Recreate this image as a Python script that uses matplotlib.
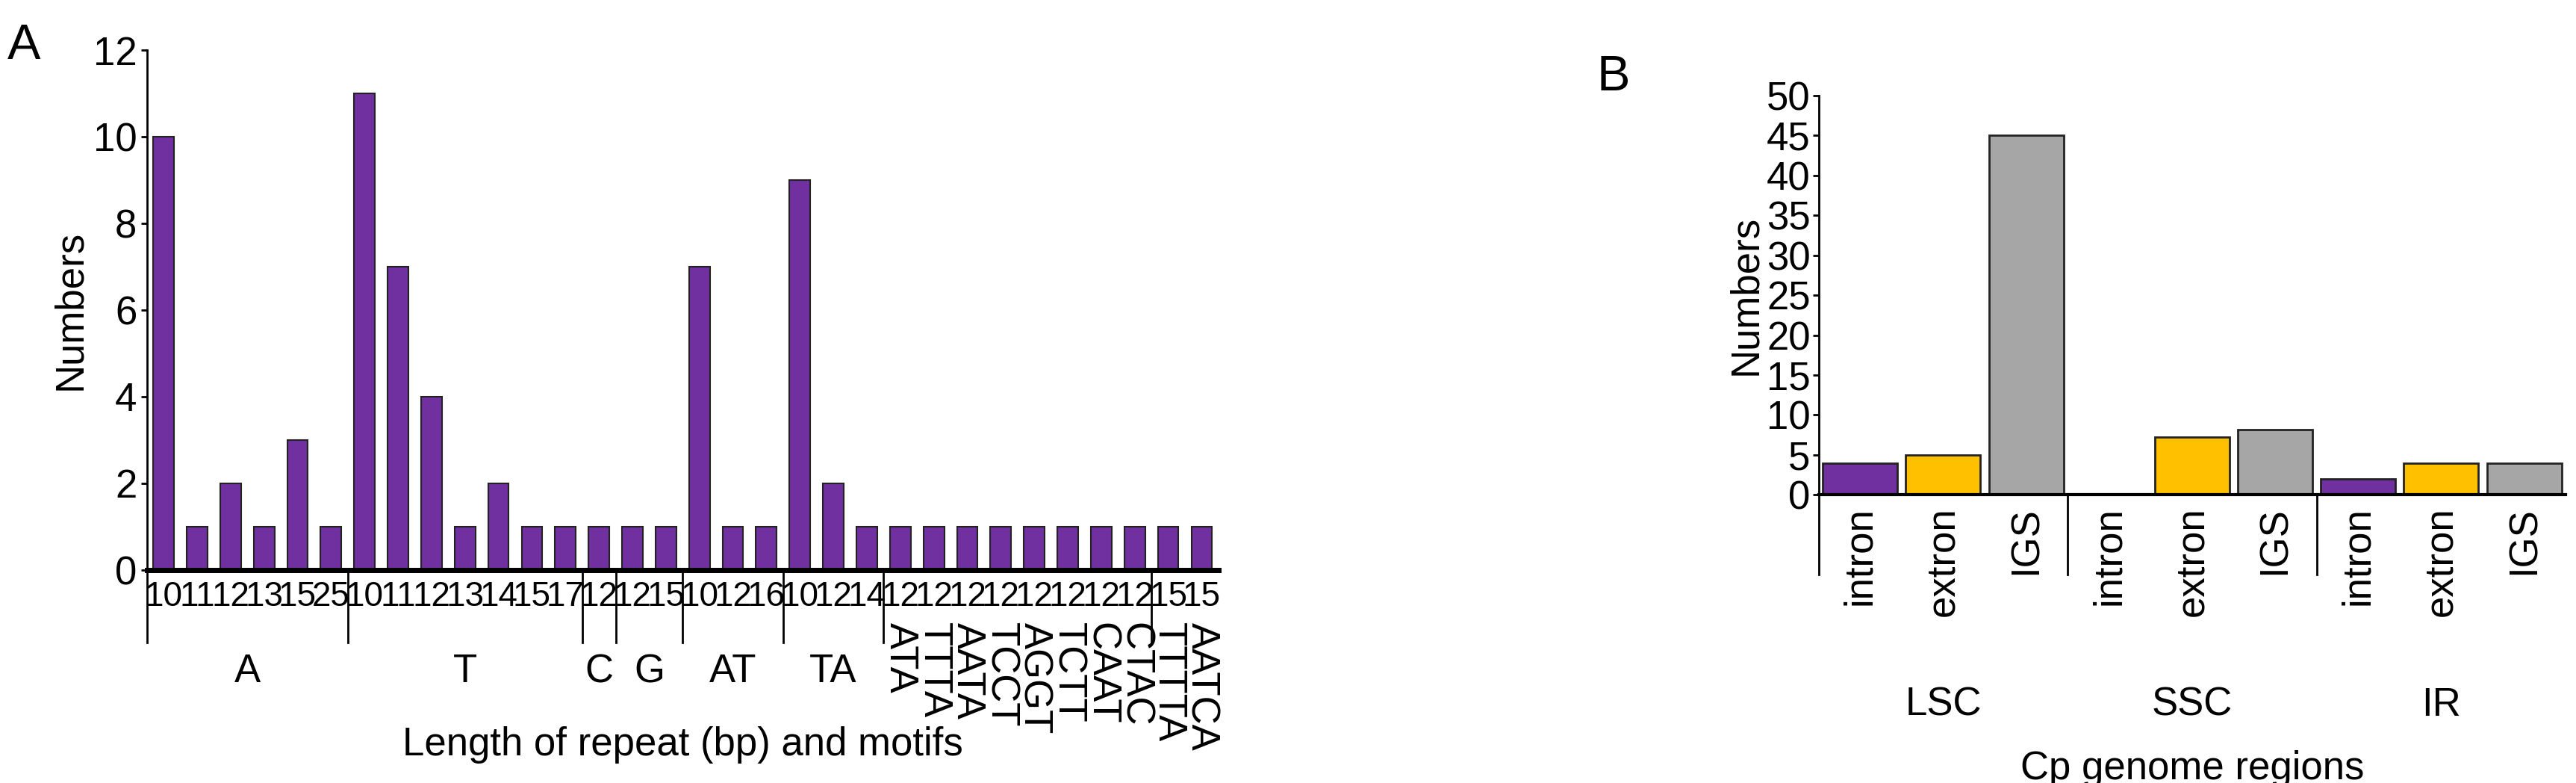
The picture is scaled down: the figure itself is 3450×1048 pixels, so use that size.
import numpy as np
import matplotlib
matplotlib.use('Agg')
import matplotlib.pyplot as plt
from matplotlib import transforms

plt.rcParams['font.family'] = ['Liberation Sans', 'DejaVu Sans']

# panel A data
groups_a = ['A', 'T', 'C', 'G', 'AT', 'TA', 'ATA', 'TTTA', 'AATA', 'TCCT', 'AGGT',
            'TCTT', 'CAAT', 'CTAC', 'TTTTA', 'AATCA']
lengths_a = [[10, 11, 12, 13, 15, 25], [10, 11, 12, 13, 14, 15, 17], [12], [12, 15],
             [10, 12, 16], [10, 12, 14], [12], [12], [12], [12], [12], [12], [12], [12], [15], [15]]
counts_a = [[10, 1, 2, 1, 3, 1], [11, 7, 4, 1, 2, 1, 1], [1], [1, 1], [7, 1, 1], [9, 2, 1],
            [1], [1], [1], [1], [1], [1], [1], [1], [1], [1]]
# separators drawn after these group indices
sep_after = [0, 1, 2, 3, 4, 5, 13]

# panel B data
regions_b = ['LSC', 'SSC', 'IR']
parts_b = ['intron', 'extron', 'IGS']
counts_b = [[4, 5, 45], [0, 7.2, 8.2], [2, 4, 4]]
colors_b = ['#7030A0', '#FFC000', '#A6A6A6']

fig = plt.figure(figsize=(34.5, 10.48), dpi=100)
fs = 38
fst = 33

# ---- panel A
ax = fig.add_axes([0.057, 0.272, 0.416, 0.664])
x = 0
xs, ys, labs, starts, ends = [], [], [], [], []
for g, (ls, cs) in enumerate(zip(lengths_a, counts_a)):
    starts.append(x)
    for l, c in zip(ls, cs):
        xs.append(x); ys.append(c); labs.append(str(l)); x += 1
    ends.append(x - 1)
ax.bar(xs, ys, width=0.62, color='#7030A0', edgecolor='#222222', linewidth=1.5)
ax.set_xlim(-0.5, len(xs) - 0.5)
ax.set_ylim(0, 12)
ax.set_yticks(range(0, 13, 2))
ax.tick_params(axis='y', labelsize=fs, length=6, width=2)
ax.set_xticks([])
for s in ['top', 'right']:
    ax.spines[s].set_visible(False)
ax.spines['bottom'].set_linewidth(5)
ax.spines['left'].set_linewidth(2)
ax.set_ylabel('Numbers', fontsize=fs)
tr = transforms.blended_transform_factory(ax.transData, ax.transAxes)
for xi, lab in zip(xs, labs):
    ax.text(xi, -0.02, lab, transform=tr, ha='center', va='top', fontsize=fst)
ax.plot([-0.5, -0.5], [0, -0.14], transform=tr, color='k', lw=2, clip_on=False)
for g in sep_after:
    xv = ends[g] + 0.5
    ax.plot([xv, xv], [0, -0.14], transform=tr, color='k', lw=2, clip_on=False)
for g, name in enumerate(groups_a):
    cx = (starts[g] + ends[g]) / 2
    if g < 6:
        ax.text(cx, -0.16, name, transform=tr, ha='center', va='top', fontsize=fs)
    else:
        ax.text(cx, -0.1, name, transform=tr, ha='center', va='top', fontsize=fs, rotation=-90)
ax.text(0.5, -0.3, 'Length of repeat (bp) and motifs', transform=ax.transAxes,
        ha='center', va='top', fontsize=fs)
fig.text(0.003, 0.97, 'A', fontsize=48, va='top')

# ---- panel B
bx = fig.add_axes([0.706, 0.368, 0.29, 0.51])
trb = transforms.blended_transform_factory(bx.transData, bx.transAxes)
pos = 0
for r, vals in enumerate(counts_b):
    for p, v in enumerate(vals):
        bx.bar(pos, v, width=0.9, color=colors_b[p], edgecolor='#222222', linewidth=2)
        bx.text(pos, -0.03, parts_b[p], transform=trb,
                ha='center', va='top', fontsize=fs, rotation=90)
        pos += 1
for r, name in enumerate(regions_b):
    bx.text(r * 3 + 1, -0.48, name, transform=trb, ha='center', va='top', fontsize=fs)
for xv in [-0.5, 2.5, 5.5]:
    bx.plot([xv, xv], [0, -0.2], transform=trb, color='k', lw=2, clip_on=False)
bx.set_xlim(-0.5, 8.5)
bx.set_ylim(0, 50)
bx.set_yticks(range(0, 51, 5))
bx.set_xticks([])
bx.tick_params(axis='y', labelsize=fs, length=6, width=2, pad=2)
for s in ['top', 'right']:
    bx.spines[s].set_visible(False)
bx.spines['bottom'].set_linewidth(3)
bx.spines['left'].set_linewidth(2)
bx.set_ylabel('Numbers', fontsize=fs, labelpad=2)
bx.text(0.5, -0.64, 'Cp genome regions', transform=bx.transAxes, ha='center', va='top', fontsize=fs)
fig.text(0.62, 0.93, 'B', fontsize=48, va='top')

fig.savefig('out.png', dpi=100)
